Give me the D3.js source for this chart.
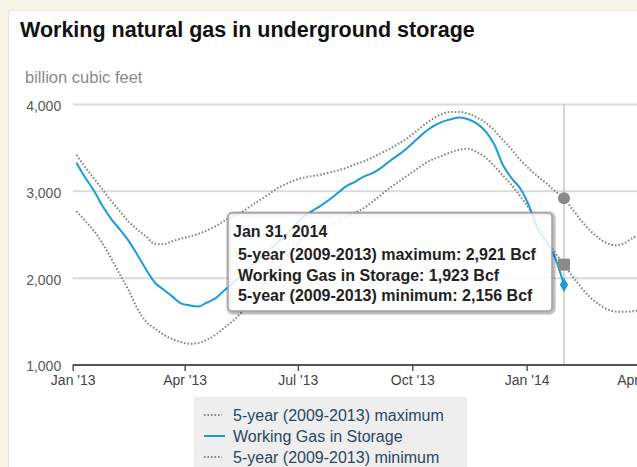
<!DOCTYPE html>
<html><head><meta charset="utf-8">
<script src="https://cdn.jsdelivr.net/npm/d3@7"></script>
<style>
body{margin:0;background:#f7f4ea;}
svg{display:block;font-family:"Liberation Sans",Arial,sans-serif;}
</style>
</head><body>
<svg id="c" width="637" height="467"></svg>
<script>
// ---- data ----
const weeks = [
 "2013-01-04","2013-01-11","2013-01-18","2013-01-25","2013-02-01","2013-02-08","2013-02-15","2013-02-22",
 "2013-03-01","2013-03-08","2013-03-15","2013-03-22","2013-03-29","2013-04-05","2013-04-12","2013-04-19",
 "2013-04-26","2013-05-03","2013-05-10","2013-05-17","2013-05-24","2013-05-31","2013-06-07","2013-06-14",
 "2013-06-21","2013-06-28","2013-07-05","2013-07-12","2013-07-19","2013-07-26","2013-08-02","2013-08-09",
 "2013-08-16","2013-08-23","2013-08-30","2013-09-06","2013-09-13","2013-09-20","2013-09-27","2013-10-04",
 "2013-10-11","2013-10-18","2013-10-25","2013-11-01","2013-11-08","2013-11-15","2013-11-22","2013-11-29",
 "2013-12-06","2013-12-13","2013-12-20","2013-12-27","2014-01-03","2014-01-10","2014-01-17","2014-01-24",
 "2014-01-31","2014-02-07","2014-02-14","2014-02-21","2014-02-28","2014-03-07","2014-03-14","2014-03-21",
 "2014-03-28","2014-04-04"];
const maxSeries = [
 3420,3280,3150,3020,2890,2770,2650,2560,2480,2395,2390,2425,2455,2480,2510,2550,
 2600,2660,2710,2760,2830,2895,2960,3030,3080,3125,3155,3175,3190,3215,3240,3270,
 3310,3345,3390,3440,3490,3550,3610,3690,3770,3840,3890,3915,3915,3895,3850,3790,
 3700,3590,3480,3360,3260,3170,3090,3000,2921,2790,2660,2550,2460,2400,2380,2405,
 2470,2500];
const workingGas = [
 3330,3160,3010,2830,2680,2560,2430,2270,2100,1950,1870,1790,1710,1687,1675,1720,
 1770,1860,1950,2040,2130,2220,2310,2400,2490,2600,2700,2770,2830,2900,2980,3060,
 3110,3170,3210,3270,3350,3420,3500,3590,3680,3750,3800,3830,3850,3830,3780,3690,
 3540,3300,3150,3030,2830,2560,2420,2230,1923];
const minSeries = [
 2770,2660,2545,2400,2225,2040,1860,1650,1500,1420,1350,1300,1265,1245,1255,1290,
 1350,1430,1510,1610,1740,1860,1980,2100,2220,2340,2454,2504,2554,2604,2654,2704,
 2754,2805,2880,2960,3040,3110,3180,3250,3320,3370,3410,3450,3480,3490,3450,3390,
 3290,3180,3070,2940,2800,2620,2440,2290,2156,2020,1890,1780,1700,1640,1615,1612,
 1620,1630];
const yTicks = [1000, 2000, 3000, 4000];
const xTickDates = ["2013-01-01","2013-04-01","2013-07-01","2013-10-01","2014-01-01","2014-04-01"];
const xTickLabels = ["Jan '13","Apr '13","Jul '13","Oct '13","Jan '14","Apr '14"];
const seriesNames = ["5-year (2009-2013) maximum","Working Gas in Storage","5-year (2009-2013) minimum"];
const tooltipIndex = 56;
const tooltipHeader = "Jan 31, 2014";
const titleText = "Working natural gas in underground storage";
const unitText = "billion cubic feet";

// ---- chart ----
const W = 637, H = 467;
const svg = d3.select("#c");
const parse = d3.utcParse("%Y-%m-%d");
const fmt = d3.format(",");
const BLUE = "#1a9bdc", GRAY = "#858585";

svg.append("rect").attr("x",8).attr("y",10).attr("width",W-8).attr("height",H-10).attr("fill","#fff");
svg.append("line").attr("x1",8.5).attr("x2",8.5).attr("y1",10).attr("y2",H).attr("stroke","#e8e3d4");
svg.append("line").attr("x1",8).attr("x2",W).attr("y1",10.5).attr("y2",10.5).attr("stroke","#ece8dc");

const x = d3.scaleUtc().domain([parse("2013-01-01"), parse("2014-04-01")]).range([72.7, 638.6]);
const y = d3.scaleLinear().domain([1000, 4000]).range([365, 104.5]);

svg.append("text").attr("x",20).attr("y",37).attr("font-size",21.5).attr("font-weight","bold")
  .attr("fill","#111").text(titleText);
svg.append("text").attr("x",25).attr("y",83).attr("font-size",16.5).attr("fill","#8a8a8a").text(unitText);

// gridlines
svg.append("g").selectAll("line").data(yTicks.filter(d => d > 1000)).join("line")
  .attr("x1",72.7).attr("x2",W).attr("y1",d=>y(d)).attr("y2",d=>y(d))
  .attr("stroke","#dadada").attr("stroke-width",2);

// y axis labels
const yAxis = svg.append("g").attr("transform","translate(72.7,0)")
  .call(d3.axisLeft(y).tickValues(yTicks).tickFormat(fmt).tickSize(0).tickPadding(11.5));
yAxis.select(".domain").remove();
yAxis.selectAll("text").attr("font-size",14).attr("fill","#5a5a5a").attr("font-family",null).attr("dy","0.42em");

// crosshair
const tx = x(parse(weeks[tooltipIndex]));
svg.append("line").attr("x1",tx).attr("x2",tx).attr("y1",104.5).attr("y2",365)
  .attr("stroke","#c6c6c6").attr("stroke-width",1.5);

// x axis
const xAxis = svg.append("g").attr("transform","translate(0,365)")
  .call(d3.axisBottom(x).tickValues(xTickDates.map(parse)).tickFormat((d,i)=>xTickLabels[i]).tickSize(6).tickPadding(4));
xAxis.select(".domain").attr("d",`M72.7,0H${W}`).attr("stroke","#555").attr("stroke-width",2);
xAxis.selectAll(".tick line").attr("stroke","#555").attr("stroke-width",1.5);
xAxis.selectAll("text").attr("font-size",14).attr("fill","#444").attr("font-family",null);

// lines
svg.append("defs").append("clipPath").attr("id","clip").append("rect")
  .attr("x",72).attr("y",90).attr("width",W-72).attr("height",290);
const plot = svg.append("g").attr("clip-path","url(#clip)");
const line = d3.line().x((d,i)=>x(parse(weeks[i]))).y(d=>y(d)).curve(d3.curveMonotoneX);
plot.append("path").datum(maxSeries).attr("d",line).attr("fill","none").attr("stroke",GRAY)
  .attr("stroke-width",2).attr("stroke-dasharray","1.6,1.9");
plot.append("path").datum(minSeries).attr("d",line).attr("fill","none").attr("stroke",GRAY)
  .attr("stroke-width",2).attr("stroke-dasharray","1.6,1.9");
plot.append("path").datum(workingGas).attr("d",line).attr("fill","none").attr("stroke",BLUE)
  .attr("stroke-width",2);

// hover markers
svg.append("circle").attr("cx",tx).attr("cy",y(maxSeries[tooltipIndex])).attr("r",6).attr("fill","#8a8a8a");
svg.append("rect").attr("x",tx-6).attr("y",y(minSeries[tooltipIndex])-6).attr("width",12).attr("height",12).attr("fill","#8a8a8a");
svg.append("path").attr("transform",`translate(${tx},${y(workingGas[tooltipIndex])})`)
  .attr("d",d3.symbol(d3.symbolDiamond, 60)()).attr("fill",BLUE);

// tooltip
const tt = svg.append("g");
const bx = 228, by = 213, bw = 324, bh = 98;
[3,2,1].forEach(k => {
  tt.append("rect").attr("x",bx+1).attr("y",by+1).attr("width",bw).attr("height",bh).attr("rx",4)
    .attr("fill","none").attr("stroke","#000").attr("stroke-opacity",0.05*k).attr("stroke-width",2*k);
});
tt.append("rect").attr("x",bx).attr("y",by).attr("width",bw).attr("height",bh).attr("rx",4)
  .attr("fill","rgba(255,255,255,0.85)").attr("stroke","#a3a3a3").attr("stroke-width",1.5);
tt.append("text").attr("x",233).attr("y",237).attr("font-size",16).attr("font-weight","bold").attr("fill","#222")
  .text(tooltipHeader);
const ttVals = [maxSeries[tooltipIndex], workingGas[tooltipIndex], minSeries[tooltipIndex]];
tt.selectAll("text.row").data(seriesNames).join("text").attr("class","row")
  .attr("x",238).attr("y",(d,i)=>260+i*20.5).attr("font-size",16).attr("font-weight","bold").attr("fill","#222")
  .text((d,i)=>`${d}: ${fmt(ttVals[i])} Bcf`);

// legend
const lg = svg.append("g");
lg.append("rect").attr("x",194).attr("y",397).attr("width",273).attr("height",90).attr("fill","#eeeeee");
const rowsY = [415, 436, 457];
seriesNames.forEach((n,i) => {
  const isBlue = i === 1;
  lg.append("line").attr("x1",204).attr("x2",isBlue?225:222).attr("y1",rowsY[i]).attr("y2",rowsY[i])
    .attr("stroke",isBlue?BLUE:GRAY).attr("stroke-width",2).attr("stroke-dasharray",isBlue?null:"1.6,1.9");
  lg.append("text").attr("x",233).attr("y",rowsY[i]+5.5).attr("font-size",16).attr("fill","#2c4660").text(n);
});
</script>
</body></html>
